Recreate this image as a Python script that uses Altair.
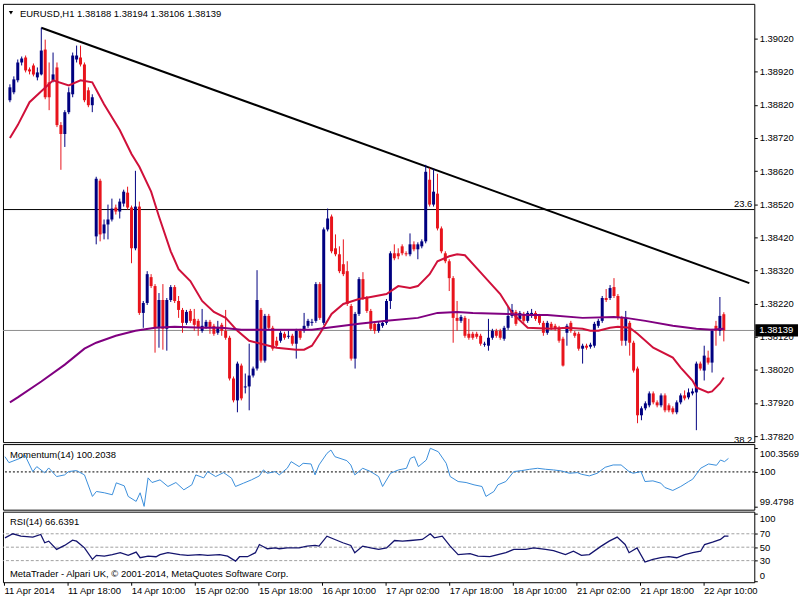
import altair as alt
import pandas as pd

# ---------------- data ----------------
OPEN = [1.38834,1.38858,1.38894,1.38948,1.38963,1.38927,1.38939,1.38903,1.38912,1.38987,
        1.38888,1.38894,1.38933,1.38759,1.38732,1.38798,1.38852,1.38957,1.38963,1.38942,
        1.38864,1.38819,1.38423,1.38591,1.38432,1.38459,1.38474,1.38510,1.38498,1.38522,
        1.38555,1.38510,1.38387,1.38513,1.38192,1.38222,1.38300,1.38273,1.38147,1.38231,
        1.38144,1.38231,1.38270,1.38228,1.38201,1.38162,1.38198,1.38174,1.38168,1.38138,
        1.38150,1.38165,1.38153,1.38132,1.38156,1.38138,1.38117,1.37994,1.37928,1.38033,
        1.37967,1.37970,1.38003,1.38024,1.38201,1.38048,1.38183,1.38147,1.38108,1.38108,
        1.38129,1.38120,1.38123,1.38099,1.38138,1.38138,1.38153,1.38162,1.38168,1.38279,
        1.38162,1.38444,1.38483,1.38387,1.38369,1.38339,1.38318,1.38213,1.38054,1.38189,
        1.38294,1.38237,1.38198,1.38159,1.38138,1.38153,1.38162,1.38228,1.38372,1.38372,
        1.38393,1.38372,1.38369,1.38399,1.38384,1.38393,1.38408,1.38594,1.38519,1.38552,
        1.38447,1.38372,1.38348,1.38297,1.38177,1.38168,1.38177,1.38129,1.38129,1.38129,
        1.38123,1.38096,1.38093,1.38117,1.38138,1.38138,1.38114,1.38147,1.38183,1.38195,
        1.38174,1.38189,1.38168,1.38183,1.38192,1.38183,1.38162,1.38132,1.38159,1.38153,
        1.38147,1.38114,1.38132,1.38162,1.38132,1.38129,1.38084,1.38093,1.38090,1.38093,
        1.38153,1.38168,1.38237,1.38237,1.38270,1.38243,1.38177,1.38108,1.38162,1.38102,
        1.38024,1.37883,1.37904,1.37913,1.37949,1.37922,1.37913,1.37943,1.37913,1.37904,
        1.37892,1.37922,1.37943,1.37937,1.37949,1.37952,1.38039,1.38018,1.38057,1.38042,
        1.38153,1.38138,1.38188]
HIGH = [1.38882,1.38906,1.38957,1.38966,1.38969,1.38933,1.38945,1.38933,1.39053,1.39017,
        1.38948,1.38978,1.38948,1.38768,1.38804,1.38873,1.38978,1.38999,1.38999,1.38948,
        1.38873,1.38852,1.38603,1.38597,1.38474,1.38519,1.38537,1.38519,1.38537,1.38564,
        1.38573,1.38516,1.38621,1.38528,1.38228,1.38318,1.38309,1.38279,1.38252,1.38279,
        1.38237,1.38276,1.38276,1.38243,1.38207,1.38201,1.38204,1.38204,1.38174,1.38204,
        1.38171,1.38171,1.38159,1.38168,1.38162,1.38201,1.38123,1.38000,1.38045,1.38039,
        1.38009,1.38099,1.38030,1.38321,1.38207,1.38189,1.38189,1.38153,1.38120,1.38138,
        1.38135,1.38138,1.38129,1.38144,1.38144,1.38192,1.38174,1.38174,1.38285,1.38285,
        1.38450,1.38507,1.38489,1.38429,1.38393,1.38414,1.38348,1.38219,1.38195,1.38300,
        1.38315,1.38243,1.38204,1.38165,1.38165,1.38168,1.38234,1.38378,1.38399,1.38387,
        1.38399,1.38378,1.38432,1.38408,1.38405,1.38414,1.38639,1.38630,1.38627,1.38612,
        1.38453,1.38378,1.38354,1.38303,1.38228,1.38186,1.38183,1.38174,1.38135,1.38135,
        1.38129,1.38105,1.38174,1.38144,1.38144,1.38144,1.38153,1.38213,1.38219,1.38201,
        1.38198,1.38195,1.38198,1.38204,1.38198,1.38189,1.38168,1.38168,1.38165,1.38159,
        1.38153,1.38120,1.38159,1.38168,1.38138,1.38135,1.38099,1.38099,1.38102,1.38165,
        1.38174,1.38243,1.38264,1.38276,1.38297,1.38249,1.38183,1.38198,1.38168,1.38108,
        1.38030,1.37910,1.37925,1.37955,1.37955,1.37928,1.37949,1.37949,1.37919,1.37910,
        1.37928,1.37949,1.37958,1.37964,1.37964,1.38045,1.38045,1.38093,1.38078,1.38144,
        1.38168,1.38240,1.38194]
LOW = [1.38828,1.38852,1.38888,1.38939,1.38918,1.38912,1.38906,1.38894,1.38909,1.38837,
       1.38804,1.38888,1.38753,1.38624,1.38693,1.38792,1.38843,1.38948,1.38936,1.38828,
       1.38813,1.38798,1.38399,1.38408,1.38414,1.38414,1.38468,1.38489,1.38477,1.38513,
       1.38504,1.38342,1.38381,1.38186,1.38147,1.38216,1.38267,1.38072,1.38087,1.38081,
       1.38078,1.38225,1.38222,1.38177,1.38132,1.38156,1.38162,1.38138,1.38123,1.38132,
       1.38144,1.38129,1.38123,1.38126,1.38123,1.38111,1.37988,1.37922,1.37892,1.37928,
       1.37949,1.37898,1.37997,1.38018,1.38042,1.38042,1.38141,1.38078,1.38087,1.38102,
       1.38111,1.38114,1.38093,1.38054,1.38111,1.38132,1.38147,1.38153,1.38162,1.38171,
       1.38156,1.38438,1.38372,1.38363,1.38312,1.38303,1.38213,1.38048,1.38024,1.38183,
       1.38231,1.38192,1.38138,1.38129,1.38132,1.38147,1.38156,1.38204,1.38351,1.38354,
       1.38366,1.38363,1.38363,1.38378,1.38354,1.38387,1.38402,1.38513,1.38513,1.38441,
       1.38372,1.38342,1.38258,1.38102,1.38138,1.38162,1.38117,1.38111,1.38111,1.38114,
       1.38093,1.38090,1.38078,1.38111,1.38117,1.38111,1.38108,1.38141,1.38177,1.38153,
       1.38168,1.38162,1.38162,1.38177,1.38168,1.38156,1.38123,1.38126,1.38141,1.38138,
       1.38102,1.38030,1.38093,1.38132,1.38117,1.38078,1.38039,1.38081,1.38084,1.38087,
       1.38147,1.38162,1.38225,1.38231,1.38237,1.38171,1.38093,1.38093,1.38063,1.38012,
       1.37859,1.37868,1.37898,1.37907,1.37916,1.37907,1.37907,1.37892,1.37892,1.37886,
       1.37886,1.37916,1.37928,1.37931,1.37943,1.37838,1.38018,1.37988,1.38036,1.38012,
       1.38093,1.38123,1.38106]
CLOSE = [1.38873,1.38897,1.38948,1.38960,1.38924,1.38921,1.38912,1.38918,1.38984,1.38843,
         1.38843,1.38912,1.38759,1.38732,1.38798,1.38858,1.38969,1.38969,1.38942,1.38834,
         1.38819,1.38843,1.38597,1.38429,1.38459,1.38474,1.38507,1.38498,1.38528,1.38558,
         1.38510,1.38387,1.38513,1.38192,1.38222,1.38309,1.38273,1.38147,1.38231,1.38144,
         1.38231,1.38270,1.38228,1.38201,1.38162,1.38195,1.38168,1.38156,1.38147,1.38153,
         1.38165,1.38147,1.38129,1.38150,1.38138,1.38117,1.37994,1.37928,1.38039,1.37934,
         1.37970,1.38003,1.38024,1.38231,1.38048,1.38183,1.38147,1.38084,1.38093,1.38132,
         1.38117,1.38123,1.38099,1.38138,1.38117,1.38153,1.38168,1.38165,1.38279,1.38177,
         1.38444,1.38477,1.38378,1.38369,1.38318,1.38309,1.38219,1.38054,1.38189,1.38294,
         1.38237,1.38198,1.38144,1.38138,1.38159,1.38162,1.38228,1.38372,1.38357,1.38363,
         1.38372,1.38369,1.38399,1.38384,1.38399,1.38408,1.38618,1.38519,1.38558,1.38447,
         1.38378,1.38348,1.38297,1.38177,1.38168,1.38180,1.38123,1.38117,1.38117,1.38120,
         1.38099,1.38099,1.38117,1.38138,1.38123,1.38117,1.38147,1.38183,1.38201,1.38159,
         1.38192,1.38168,1.38192,1.38192,1.38174,1.38162,1.38132,1.38162,1.38147,1.38144,
         1.38108,1.38033,1.38153,1.38138,1.38123,1.38084,1.38093,1.38087,1.38096,1.38159,
         1.38168,1.38237,1.38231,1.38267,1.38243,1.38177,1.38108,1.38177,1.38102,1.38018,
         1.37883,1.37904,1.37919,1.37949,1.37922,1.37913,1.37943,1.37898,1.37898,1.37892,
         1.37922,1.37943,1.37934,1.37952,1.37955,1.38039,1.38024,1.38063,1.38042,1.38138,
         1.38138,1.38183,1.38139]

MA_FAST_I = [0,2,5,8,11,15,18,21,24,28,31,33,36,38,41,43,46,49,52,55,58,61,64,68,73,75,77,79,82,85,
             89,92,96,99,102,104,107,109,112,114,116,119,122,125,128,132,138,142,146,148,150,153,155,158,160,
             164,169,171,174,175,178,179,181,182]
MA_FAST_V = [1.38720,1.38759,1.38828,1.38861,1.38894,1.38879,1.38894,1.38888,1.38822,1.38744,
             1.38672,1.38633,1.38558,1.38483,1.38378,1.38324,1.38288,1.38228,1.38195,1.38177,
             1.38138,1.38108,1.38099,1.38087,1.38081,1.38081,1.38093,1.38129,1.38189,1.38219,
             1.38234,1.38240,1.38249,1.38273,1.38267,1.38273,1.38309,1.38348,1.38363,1.38369,
             1.38366,1.38327,1.38288,1.38249,1.38192,1.38147,1.38144,1.38147,1.38144,1.38138,
             1.38138,1.38147,1.38150,1.38147,1.38129,1.38087,1.38057,1.38027,1.37988,1.37967,
             1.37952,1.37955,1.37979,1.37997]
MA_SLOW_I = [0,2,8,14,19,22,27,32,37,42,49,54,59,67,77,81,89,96,104,109,114,118,127,132,137,146,
             154,157,162,169,175,179,182]
MA_SLOW_V = [1.37922,1.37937,1.37985,1.38036,1.38084,1.38102,1.38123,1.38138,1.38147,1.38150,
             1.38147,1.38147,1.38141,1.38141,1.38141,1.38147,1.38159,1.38168,1.38177,1.38192,
             1.38195,1.38192,1.38189,1.38186,1.38186,1.38177,1.38180,1.38177,1.38168,1.38153,
             1.38144,1.38141,1.38144]

MOM_I = [0,1,4,5,7,8,10,11,13,15,16,18,20,22,23,25,27,28,30,31,33,34,35,36,37,39,41,43,45,47,
         48,50,51,53,55,57,58,60,62,64,65,66,68,69,71,72,74,75,77,78,79,81,82,83,86,87,88,90,92,94,
         95,97,99,101,102,103,104,106,107,109,111,112,114,116,118,120,121,123,124,126,128,130,132,134,
         136,138,140,142,144,145,147,149,151,153,155,157,158,160,161,163,165,166,168,170,172,173,175,
         177,179,180,181,182]
MOM_V = [100.23,100.14,100.21,100.255,100.005,100.08,99.985,100.06,99.93,99.955,100.005,100.02,
         99.955,99.63,99.705,99.685,99.655,99.835,99.79,99.63,99.555,99.685,99.4798,99.91,99.84,
         99.88,99.78,99.84,99.73,99.805,99.955,99.91,100.005,99.93,99.99,99.905,99.78,99.83,99.88,
         99.94,100.03,99.98,100.005,99.955,100.055,100.155,100.08,100.13,100.12,99.955,100.105,
         100.28,100.33,100.23,100.17,100.105,99.955,100.055,100.005,99.93,99.78,99.98,100.03,
         100.055,100.205,100.23,100.08,100.18,100.3569,100.305,100.13,99.93,99.855,99.84,99.805,
         99.78,99.63,99.705,99.805,99.855,100.005,100.02,100.04,100.055,100.04,100.03,100.015,
         99.98,99.99,99.965,99.94,99.98,100.07,100.105,100.105,100.005,99.98,100.005,99.855,
         99.865,99.83,99.765,99.72,99.78,99.855,99.89,100.055,100.12,100.10,100.18,100.155,100.2038]

RSI_I = [0,2,4,7,9,10,11,13,15,17,18,20,22,23,25,27,29,31,33,34,36,38,39,41,44,46,49,51,54,56,
         58,59,61,63,64,66,68,69,71,74,76,78,79,81,83,85,87,88,90,92,94,96,98,100,102,105,107,108,
         110,112,114,117,119,122,124,126,128,131,133,136,138,141,143,145,147,150,152,154,156,157,
         159,161,163,165,167,169,171,173,175,176,178,180,181,182]
RSI_V = [64,70,66.4,65,69,56.6,59,46.7,52.6,60.4,59,49,31.9,37.8,36.7,39,41.8,37.8,42.7,34.3,
         36.7,35.8,39,41.8,39,37.8,39,37.8,39,36.7,29.3,35.8,35.8,41.8,54,47.7,49,47.7,49,49,
         51.6,52.6,51.6,66.4,61.5,56.6,52.6,41.8,51.6,49,46.7,49,60,59,60,61.5,70,64,66.4,51.6,
         39,40.3,36.7,35.8,39,41.8,46.7,46.7,49,46.7,45,39,44,37.8,39,51.6,59,65,54,41.8,49,
         27.9,31.9,34.3,35.8,34.3,39,41.8,44,54,57.5,61.5,66.4,66.6391]

TIME_LABELS = ["11 Apr 2014", "11 Apr 18:00", "14 Apr 10:00", "15 Apr 02:00", "15 Apr 18:00",
               "16 Apr 10:00", "17 Apr 02:00", "17 Apr 18:00", "18 Apr 10:00", "21 Apr 02:00",
               "21 Apr 18:00", "22 Apr 10:00"]
PRICE_TICKS = [1.37820, 1.37920, 1.38020, 1.38120, 1.38220, 1.38320, 1.38420,
               1.38520, 1.38620, 1.38720, 1.38820, 1.38920, 1.39020]
TREND_I = [8, 188.5]
TREND_V = [1.39053, 1.38282]
FIB_236 = 1.38504
FIB_382 = 1.37790
LAST_PRICE = 1.38139
TITLE = "EURUSD,H1  1.38188 1.38194 1.38106 1.38139"

# ---------------- chart ----------------
FONT = "Liberation Sans"
FS = 9.5
W = 756
BULL, BEAR = "#000080", "#E8141C"

candles = pd.DataFrame({"i": list(range(len(OPEN))), "open": OPEN, "high": HIGH,
                        "low": LOW, "close": CLOSE})
candles["dir"] = ["up" if c >= o else "down" for o, c in zip(OPEN, CLOSE)]

xscale = alt.Scale(domain=[-0.5, 188.5], nice=False, zero=False)
X = alt.X("i:Q", scale=xscale, axis=None)
color = alt.Color("dir:N", scale=alt.Scale(domain=["up", "down"], range=[BULL, BEAR]), legend=None)

pscale = alt.Scale(domain=[1.37802, 1.39125], nice=False, zero=False)
paxis = alt.Axis(orient="right", values=PRICE_TICKS, format=".5f", tickSize=3, tickColor="black",
                 labelPadding=2, domain=False, grid=False, title=None, labelFontSize=FS,
                 labelColor="black", labelFont=FONT)


def PY(field):
    return alt.Y(field, scale=pscale, axis=paxis)


one = pd.DataFrame({"k": [0]})

fib = alt.Chart(pd.DataFrame({"p": [FIB_236]})).mark_rule(color="black", strokeWidth=1).encode(
    y=PY("p:Q"))
lastline = alt.Chart(pd.DataFrame({"p": [LAST_PRICE]})).mark_rule(color="#8c8c8c", strokeWidth=1).encode(
    y=PY("p:Q"))
trend = alt.Chart(pd.DataFrame({"i": TREND_I, "p": TREND_V})).mark_line(color="black", strokeWidth=2).encode(
    x=X, y=PY("p:Q"))
wicks = alt.Chart(candles).mark_rule(strokeWidth=1).encode(
    x=X, y=PY("low:Q"), y2="high:Q", color=color)
bodies = alt.Chart(candles).mark_bar(size=3).encode(
    x=X, y=PY("open:Q"), y2="close:Q", color=color)
ma_fast = alt.Chart(pd.DataFrame({"i": MA_FAST_I, "p": MA_FAST_V})).mark_line(
    color="#D0103A", strokeWidth=2).encode(x=X, y=PY("p:Q"))
ma_slow = alt.Chart(pd.DataFrame({"i": MA_SLOW_I, "p": MA_SLOW_V})).mark_line(
    color="#800080", strokeWidth=2).encode(x=X, y=PY("p:Q"))
lbl236 = alt.Chart(pd.DataFrame({"p": [FIB_236], "t": ["23.6"]})).mark_text(
    align="right", baseline="bottom", dy=-1, fontSize=FS, font=FONT, color="black").encode(
    x=alt.value(754), y=PY("p:Q"), text="t:N")
lbl382 = alt.Chart(pd.DataFrame({"p": [FIB_382], "t": ["38.2"]})).mark_text(
    align="right", baseline="bottom", dy=-1, fontSize=FS, font=FONT, color="black", clip=True).encode(
    x=alt.value(754), y=PY("p:Q"), text="t:N")
title = alt.Chart(pd.DataFrame({"t": [TITLE]})).mark_text(
    align="left", baseline="middle", fontSize=FS, font=FONT, color="black").encode(
    x=alt.value(17), y=alt.value(10), text="t:N")
tri = alt.Chart(one).mark_point(shape="triangle-down", filled=True, size=18, color="black", opacity=1).encode(
    x=alt.value(8), y=alt.value(9))
box = alt.Chart(pd.DataFrame({"top": [LAST_PRICE + 0.00019], "bot": [LAST_PRICE - 0.00018]})).mark_rect(
    color="black", clip=False).encode(x=alt.value(757), x2=alt.value(800),
                                      y=PY("top:Q"), y2="bot:Q")
boxtxt = alt.Chart(pd.DataFrame({"p": [LAST_PRICE], "t": ["1.38139"]})).mark_text(
    align="left", baseline="middle", fontSize=FS, font=FONT, color="white").encode(
    x=alt.value(761), y=PY("p:Q"), text="t:N")

main = alt.layer(fib, lastline, trend, wicks, bodies, ma_fast, ma_slow, lbl236, lbl382,
                 title, tri, box, boxtxt).properties(width=W, height=441)

# Momentum panel
mscale = alt.Scale(domain=[99.43, 100.42], nice=False, zero=False)
maxis = alt.Axis(orient="right", values=[99.4798, 100.0, 100.3569],
                 labelExpr="datum.value > 100.1 ? '100.3569' : (datum.value < 99.9 ? '99.4798' : '100')",
                 labelBaseline={"condition": [{"test": "datum.value > 100.1", "value": "top"},
                                              {"test": "datum.value < 99.9", "value": "bottom"}],
                                "value": "middle"},
                 tickSize=3, tickColor="black", labelPadding=2, domain=False, grid=False, title=None,
                 labelFontSize=FS, labelColor="black", labelFont=FONT)
m_level = alt.Chart(pd.DataFrame({"v": [100.0]})).mark_rule(
    color="black", strokeDash=[2, 2], strokeWidth=1).encode(y=alt.Y("v:Q", scale=mscale, axis=maxis))
m_line = alt.Chart(pd.DataFrame({"i": MOM_I, "v": MOM_V})).mark_line(
    color="#3A8EDB", strokeWidth=1).encode(x=X, y=alt.Y("v:Q", scale=mscale, axis=maxis))
m_txt = alt.Chart(pd.DataFrame({"t": ["Momentum(14) 100.2038"]})).mark_text(
    align="left", baseline="middle", fontSize=FS, font=FONT, color="black").encode(
    x=alt.value(7), y=alt.value(11), text="t:N")
mom = alt.layer(m_level, m_line, m_txt).properties(width=W, height=66)

# RSI panel
rscale = alt.Scale(domain=[-2.22, 102.96], nice=False, zero=False)
raxis = alt.Axis(orient="right", values=[0, 30, 50, 70, 100],
                 labelBaseline={"condition": [{"test": "datum.value > 90", "value": "top"},
                                              {"test": "datum.value < 10", "value": "bottom"}],
                                "value": "middle"},
                 tickSize=3, tickColor="black", labelPadding=2, domain=False, grid=False, title=None,
                 labelFontSize=FS, labelColor="black", labelFont=FONT)
label_js = "[" + ",".join("'" + s + "'" for s in TIME_LABELS) + "]"
xaxis = alt.Axis(orient="bottom", values=[-0.25 + 16 * k for k in range(len(TIME_LABELS))],
                 labelExpr=label_js + "[round((datum.value + 0.25) / 16)]",
                 labelAlign="left", labelPadding=0, tickSize=3, tickColor="black", domain=False,
                 grid=False, title=None, labelOverlap=False, labelFontSize=FS, labelColor="black",
                 labelFont=FONT, labelBound=False, labelFlush=False)
r_levels = alt.Chart(pd.DataFrame({"v": [30, 50, 70]})).mark_rule(
    color="#a0a0a0", strokeDash=[3, 2], strokeWidth=1).encode(y=alt.Y("v:Q", scale=rscale, axis=raxis))
r_line = alt.Chart(pd.DataFrame({"i": RSI_I, "v": RSI_V})).mark_line(
    color="#14146e", strokeWidth=1.3).encode(x=alt.X("i:Q", scale=xscale, axis=xaxis),
                                           y=alt.Y("v:Q", scale=rscale, axis=raxis))
r_txt = alt.Chart(pd.DataFrame({"t": ["RSI(14) 66.6391"]})).mark_text(
    align="left", baseline="middle", fontSize=FS, font=FONT, color="black").encode(
    x=alt.value(7), y=alt.value(10), text="t:N")
r_txt2 = alt.Chart(pd.DataFrame({"t": ["MetaTrader - Alpari UK, © 2001-2014, MetaQuotes Software Corp."]})).mark_text(
    align="left", baseline="middle", fontSize=FS, font=FONT, color="black").encode(
    x=alt.value(7), y=alt.value(63), text="t:N")
rsi = alt.layer(r_levels, r_line, r_txt, r_txt2).properties(width=W, height=71)

chart = alt.vconcat(main, mom, rsi, spacing=2, bounds="flush").properties(
    padding={"left": 1, "top": 1, "right": 0, "bottom": 0}
).configure(font=FONT, background="white").configure_view(stroke="black", strokeWidth=1)

chart.save("out.html", embed_options={"renderer": "svg", "actions": False})
